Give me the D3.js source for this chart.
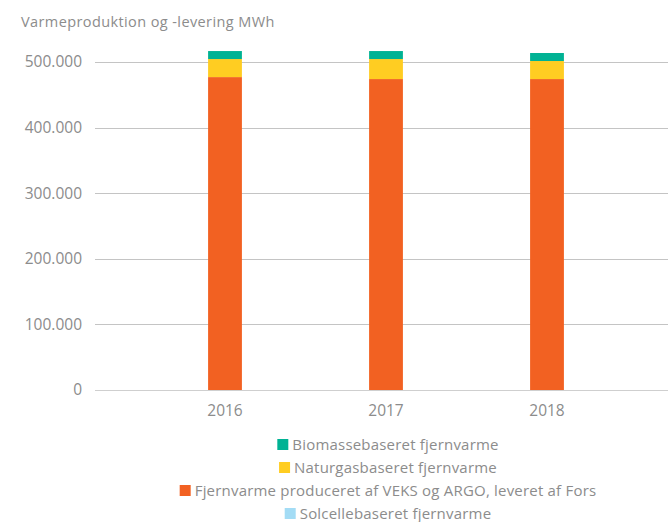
<!DOCTYPE html>
<html>
<head>
<meta charset="utf-8">
<script src="https://cdn.jsdelivr.net/npm/d3@7"></script>
<style>
  body { margin: 0; background: #fff; }
  text { font-family: "Open Sans", sans-serif; fill: #8c8c8c; }
</style>
</head>
<body>
<div id="chart"></div>
<script>
const years = ['2016', '2017', '2018'];
const seriesNames = [
  'Fjernvarme produceret af VEKS og ARGO, leveret af Fors',
  'Solcellebaseret fjernvarme',
  'Naturgasbaseret fjernvarme',
  'Biomassebaseret fjernvarme'
];
const vekssArgo = [477000, 474000, 474000];
const solar = [0, 0, 0];
const naturgas = [27500, 30500, 27500];
const biomasse = [12200, 12200, 12200];
const yTicks = [0, 100000, 200000, 300000, 400000, 500000];
const legendOrder = [
  'Biomassebaseret fjernvarme',
  'Naturgasbaseret fjernvarme',
  'Fjernvarme produceret af VEKS og ARGO, leveret af Fors',
  'Solcellebaseret fjernvarme'
];

const colors = {
  'Fjernvarme produceret af VEKS og ARGO, leveret af Fors': '#f26122',
  'Solcellebaseret fjernvarme': '#a3dcf5',
  'Naturgasbaseret fjernvarme': '#ffcd22',
  'Biomassebaseret fjernvarme': '#00b294'
};

const rows = years.map((y, i) => ({
  year: y,
  [seriesNames[0]]: vekssArgo[i],
  [seriesNames[1]]: solar[i],
  [seriesNames[2]]: naturgas[i],
  [seriesNames[3]]: biomasse[i]
}));

const width = 668, height = 522;
const svg = d3.select('#chart').append('svg')
  .attr('width', width)
  .attr('height', height);

const x = d3.scaleBand()
  .domain(years)
  .range([144.5, 627.5])
  .paddingInner(0.79)
  .paddingOuter(0.395);

const y = d3.scaleLinear()
  .domain([0, 500000])
  .range([390, 62]);

// title
svg.append('text')
  .attr('x', 21)
  .attr('y', 27)
  .style('font-size', '14.5px')
  .style('letter-spacing', '0.4px')
  .text('Varmeproduktion og -levering MWh');

// grid
svg.append('g')
  .selectAll('line')
  .data(yTicks)
  .join('line')
  .attr('x1', 95)
  .attr('x2', width)
  .attr('y1', d => Math.round(y(d)) + 0.5)
  .attr('y2', d => Math.round(y(d)) + 0.5)
  .attr('stroke', d => d === 0 ? '#cfcfcf' : '#c4c4c4')
  .attr('stroke-width', 1);

// y labels
const fmt = d3.formatLocale({ decimal: ',', thousands: '.', grouping: [3], currency: ['', ''] }).format(',d');
svg.append('g')
  .selectAll('text')
  .data(yTicks)
  .join('text')
  .attr('x', 82)
  .attr('y', d => y(d))
  .attr('dy', '0.35em')
  .attr('text-anchor', 'end')
  .style('font-size', '15.5px')
  .text(d => fmt(d));

// stacked bars
const stack = d3.stack().keys(seriesNames);
svg.append('g')
  .selectAll('g')
  .data(stack(rows))
  .join('g')
  .attr('fill', d => colors[d.key])
  .selectAll('rect')
  .data(d => d)
  .join('rect')
  .attr('x', d => x(d.data.year))
  .attr('width', x.bandwidth())
  .attr('y', d => y(d[1]))
  .attr('height', d => y(d[0]) - y(d[1]));

// x labels
svg.append('g')
  .selectAll('text')
  .data(years)
  .join('text')
  .attr('x', d => x(d) + x.bandwidth() / 2)
  .attr('y', 416)
  .attr('text-anchor', 'middle')
  .style('font-size', '15.5px')
  .text(d => d);

// legend
const legendCx = 388;
const lg = svg.append('g')
  .selectAll('g')
  .data(legendOrder)
  .join('g')
  .attr('transform', (d, i) => `translate(0,${445 + i * 23})`);

lg.append('text')
  .attr('y', 0)
  .attr('dy', '0.35em')
  .style('font-size', '15px')
  .style('letter-spacing', '0.2px')
  .text(d => d);

lg.each(function () {
  const g = d3.select(this);
  const t = g.select('text');
  const w = t.node().getComputedTextLength();
  const total = 11 + 4 + w;
  const left = legendCx - total / 2;
  g.insert('rect', 'text')
    .attr('x', left)
    .attr('y', -6)
    .attr('width', 11)
    .attr('height', 11)
    .attr('fill', d => colors[d]);
  t.attr('x', left + 15);
});
</script>
</body>
</html>
